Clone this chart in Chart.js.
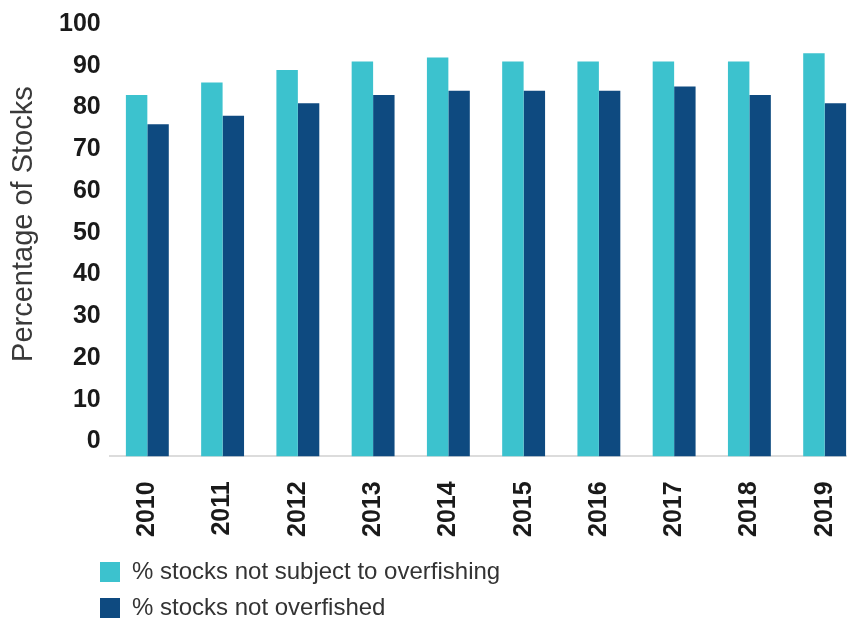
<!DOCTYPE html>
<html>
<head>
<meta charset="utf-8">
<title>Status of Stocks</title>
<script src="https://cdn.jsdelivr.net/npm/chart.js@4.4.0/dist/chart.umd.min.js"></script>
<style>
  html, body { margin: 0; padding: 0; background: #fff; overflow: hidden; }
  #wrap { position: relative; width: 880px; height: 640px; }
</style>
</head>
<body>
<div id="wrap"><canvas id="stocksChart"></canvas></div>
<script>
const years = ['2010', '2011', '2012', '2013', '2014', '2015', '2016', '2017', '2018', '2019'];
const notSubjectToOverfishing = [83, 86, 89, 91, 92, 91, 91, 91, 91, 93];
const notOverfished = [76, 78, 81, 83, 84, 84, 84, 85, 83, 81];
const yTicks = [0, 10, 20, 30, 40, 50, 60, 70, 80, 90, 100];

// in the original the bars start a little below the "0" label
const yFloor = -3.6;

const tickFont = { family: "'Liberation Sans', Arial, sans-serif", size: 25, weight: 'bold' };

// put the legend under the axis like the original (two rows, left aligned)
const legendPlacement = {
    id: 'legendPlacement',
    afterLayout(chart) {
        const lg = chart.legend;
        lg.left = 88;
        lg.right = 560;
        lg.top = 548;
        lg.bottom = chart.height; // legend clips to its box
    }
};

const ctx = document.getElementById('stocksChart').getContext('2d');
const stocksChart = new Chart(ctx, {
    type: 'bar',
    data: {
        labels: years,
        datasets: [
            {
                label: '% stocks not subject to overfishing',
                data: notSubjectToOverfishing,
                backgroundColor: '#3cc2ce',
                base: yFloor,
                barPercentage: 1,
                categoryPercentage: 0.57,
            },
            {
                label: '% stocks not overfished',
                data: notOverfished,
                backgroundColor: '#0e4a80',
                base: yFloor,
                barPercentage: 1,
                categoryPercentage: 0.57,
            },
        ],
    },
    options: {
        responsive: true,
        maintainAspectRatio: false,
        animation: false,
        devicePixelRatio: 1,
        layout: {
            padding: { top: 24, left: 0, right: 7, bottom: 32 },
        },
        plugins: {
            tooltip: { enabled: false },
            legend: {
                position: 'bottom',
                align: 'start',
                maxWidth: 470,
                labels: {
                    boxWidth: 20,
                    boxHeight: 20,
                    padding: 12,
                    color: '#333333',
                    font: { family: "'Liberation Sans', Arial, sans-serif", size: 24 },
                },
            },
        },
        scales: {
            x: {
                grid: { display: false, drawTicks: false },
                border: { display: true, color: '#dcdcdc', width: 2 },
                ticks: {
                    autoSkip: false,
                    minRotation: 90,
                    maxRotation: 90,
                    padding: 25,
                    color: '#1a1a1a',
                    font: tickFont,
                },
            },
            y: {
                min: yFloor,
                max: 100,
                afterBuildTicks: (axis) => {
                    axis.ticks = yTicks.map(v => ({ value: v }));
                },
                grid: { display: false, drawTicks: false },
                border: { display: false },
                ticks: {
                    padding: 9,
                    color: '#1a1a1a',
                    font: tickFont,
                },
                title: {
                    display: true,
                    text: '    Percentage of Stocks',
                    color: '#3a3a3a',
                    font: { family: "'Liberation Sans', Arial, sans-serif", size: 29, lineHeight: 1 },
                    padding: { top: 9, bottom: 12 },
                },
            },
        },
    },
    plugins: [legendPlacement],
});
</script>
</body>
</html>
